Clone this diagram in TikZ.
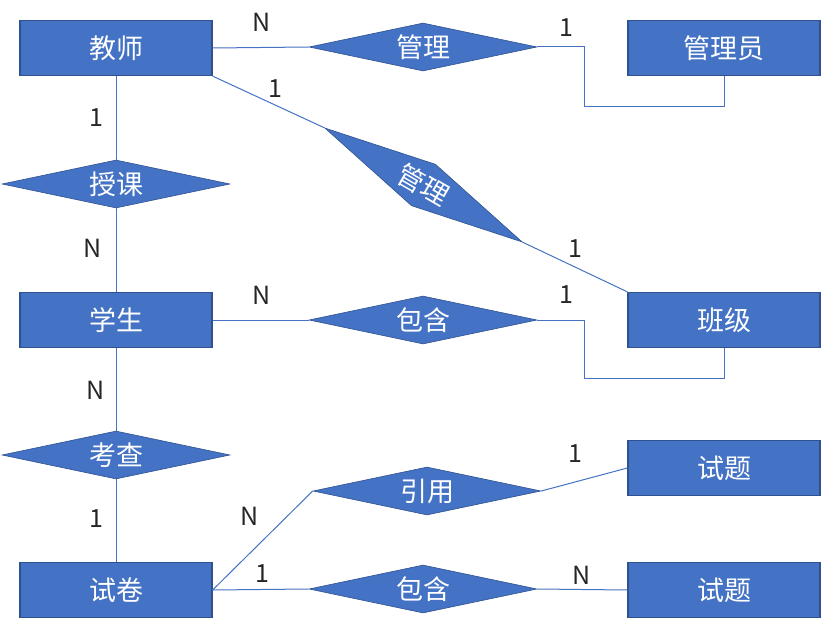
\documentclass[tikz,border=0pt]{standalone}
\usepackage{fontspec}
\setmainfont{Noto Sans CJK SC}
\usetikzlibrary{shapes.geometric}
\definecolor{erfill}{HTML}{4472C4}
\definecolor{erdraw}{HTML}{2F528F}

\begin{document}
\begin{tikzpicture}[
    x=1pt, y=-1pt,
    entity/.style={draw=erdraw, line width=1.3pt, fill=erfill, text=white,
                   minimum width=192pt, minimum height=55pt, inner sep=0pt,
                   font=\fontsize{27}{30}\selectfont},
    relation/.style={diamond, shape aspect=4.75, draw=erdraw, line width=0.6pt,
                     fill=erfill, text=white, minimum width=228pt,
                     minimum height=48pt, inner sep=0pt,
                     font=\fontsize{27}{30}\selectfont},
    conn/.style={draw=erfill, line width=1pt},
    card/.style={font=\fontsize{25}{28}\selectfont, text=black!85, inner sep=0pt},
]
\useasboundingbox (0,0) rectangle (822,618);

% --- NODES ---
\node[entity] (teacher) at (116,48) {教师};
\node[entity] (admin) at (724,48) {管理员};
\node[entity] (student) at (116,320) {学生};
\node[entity] (class) at (724,320) {班级};
\node[entity] (paper) at (116,590) {试卷};
\node[entity] (quesA) at (724,468) {试题};
\node[entity] (quesB) at (724,590) {试题};

\node[relation] (manageA) at (423,47) {管理};
\node[relation, rotate=-30] (manageB) at (423.5,185) {管理};
\node[relation] (teach) at (116,184) {授课};
\node[relation] (containA) at (423,320) {包含};
\node[relation] (exam) at (116,455) {考查};
\node[relation] (cite) at (427,491) {引用};
\node[relation] (containB) at (423,589) {包含};

% --- CARDINALITIES ---
\node[card] (c1) at (262,22) {N};
\node[card] (c2) at (566,28) {1};
\node[card] (c3) at (275,89) {1};
\node[card] (c4) at (575,249) {1};
\node[card] (c5) at (96,118) {1};
\node[card] (c6) at (93,248) {N};
\node[card] (c7) at (262,295) {N};
\node[card] (c8) at (566,295) {1};
\node[card] (c9) at (96,390) {N};
\node[card] (c10) at (96,519) {1};
\node[card] (c11) at (250,516) {N};
\node[card] (c12) at (575,454) {1};
\node[card] (c13) at (262,574) {1};
\node[card] (c14) at (582,575) {N};

% --- LINES ---
\draw[conn] (teacher.east) -- (manageA.west);
\draw[conn] (manageA.east) -- ++(47,0) |- ++(0,59) -| (admin.south);
\draw[conn] (teacher.south east) -- (manageB.west);
\draw[conn] (manageB.east) -- (class.north west);
\draw[conn] (teacher.south) -- (teach.north);
\draw[conn] (teach.south) -- (student.north);
\draw[conn] (student.east) -- (containA.west);
\draw[conn] (containA.east) -- ++(47,0) |- ++(0,58) -| (class.south);
\draw[conn] (student.south) -- (exam.north);
\draw[conn] (exam.south) -- (paper.north);
\draw[conn] (paper.east) -- (cite.west);
\draw[conn] (cite.east) -- (quesA.west);
\draw[conn] (paper.east) -- (containB.west);
\draw[conn] (containB.east) -- (quesB.west);

\end{tikzpicture}
\end{document}
